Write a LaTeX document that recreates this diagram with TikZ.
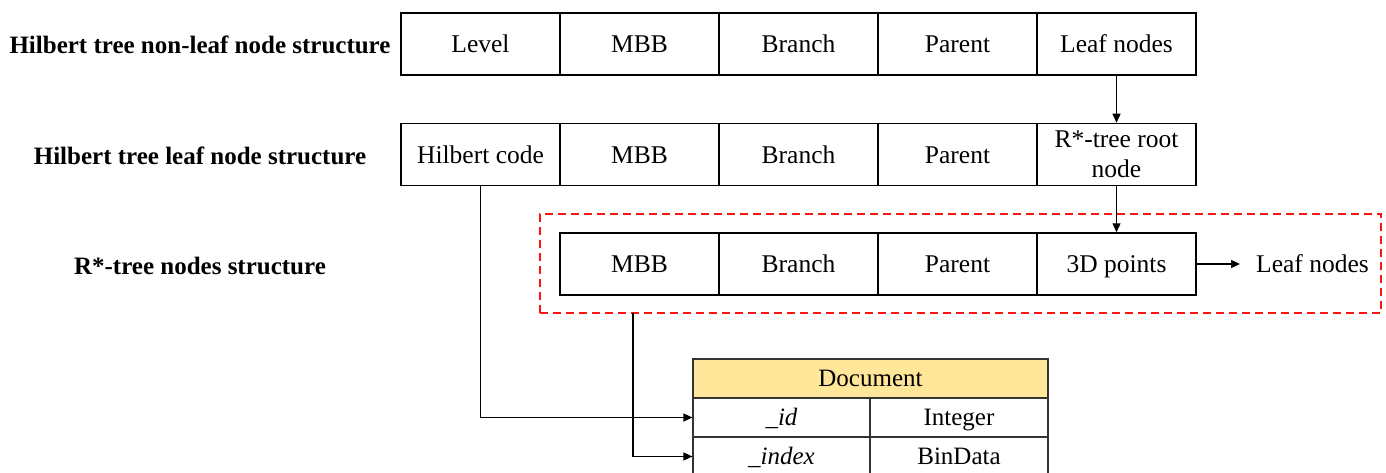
\documentclass[tikz,border=0pt]{standalone}
\usepackage{fontspec}
\setmainfont{Liberation Serif}
\usetikzlibrary{arrows.meta}
\begin{document}
\begin{tikzpicture}[x=1pt,y=-1pt,
  cell/.style={draw, line width=1.5pt, minimum width=159pt, minimum height=62pt,
    inner sep=0pt, font=\fontsize{25.5}{27}\selectfont},
  oneline/.style={text height=22.7pt, text depth=5.5pt},
  rowlabel/.style={font=\fontsize{25}{27}\selectfont\bfseries},
  tcell/.style={draw=black!80, line width=1.2pt, minimum height=39pt, inner sep=0pt,
    font=\fontsize{25}{27}\selectfont, text height=22.3pt, text depth=5.4pt},
  conn/.style={line width=1.3pt, -{Triangle[length=9pt,width=8pt]}},
  redbox/.style={draw={rgb,255:red,255;green,20;blue,20}, line width=1.8pt,
    dash pattern=on 8pt off 5pt},
]
\useasboundingbox (0,0) rectangle (1386,473);
\clip (0,0) rectangle (1386,473);

% row labels
\node[rowlabel] (l1) at (200,45) {Hilbert tree non-leaf node structure};
\node[rowlabel] (l2) at (200,156) {Hilbert tree leaf node structure};
\node[rowlabel] (l3) at (200,266) {R*-tree nodes structure};

% Hilbert tree non-leaf node
\node[cell, oneline] (a1) at (480.5,44) {Level};
\node[cell, oneline] (a2) at (639.5,44) {MBB};
\node[cell, oneline] (a3) at (798.5,44) {Branch};
\node[cell, oneline] (a4) at (957.5,44) {Parent};
\node[cell, oneline] (a5) at (1116.5,44) {Leaf nodes};

% Hilbert tree leaf node
\node[cell, oneline] (b1) at (480.5,154.5) {Hilbert code};
\node[cell, oneline] (b2) at (639.5,154.5) {MBB};
\node[cell, oneline] (b3) at (798.5,154.5) {Branch};
\node[cell, oneline] (b4) at (957.5,154.5) {Parent};
\node[cell, align=center, font=\fontsize{25.5}{30}\selectfont] (b5) at (1116.5,154.5) {R*-tree root\\node};

% R*-tree nodes
\node[redbox, minimum width=841pt, minimum height=99pt, inner sep=0pt] (grp) at (960.5,263.5) {};
\node[cell, oneline] (c2) at (639.5,264) {MBB};
\node[cell, oneline] (c3) at (798.5,264) {Branch};
\node[cell, oneline] (c4) at (957.5,264) {Parent};
\node[cell, oneline] (c5) at (1116.5,264) {3D points};
\node[anchor=west, inner xsep=16pt, inner ysep=0pt, oneline, font=\fontsize{25.5}{27}\selectfont] (leaf) at (1240,264) {Leaf nodes};

% Document table
\node[tcell, fill={rgb,255:red,255;green,230;blue,153}, minimum width=355pt] (doc) at (870.5,378.5) {Document};
\node[tcell, minimum width=177pt] (idk) at (781.5,417.5) {\itshape \_id};
\node[tcell, minimum width=178pt] (idv) at (959,417.5) {Integer};
\node[tcell, minimum width=177pt] (ixk) at (781.5,456.5) {\itshape \_index};
\node[tcell, minimum width=178pt] (ixv) at (959,456.5) {BinData};

% connectors
\draw[conn] (a5.south) -- (b5.north);
\draw[conn] (b5.south) -- (c5.north);
\draw[conn] (c5.east) -- (leaf.west);
\draw[conn] (b1.south) -- (b1.south |- idk.west) -- (idk.west);
\coordinate (mbbout) at (633,313);
\draw[conn] (mbbout) -- (mbbout |- ixk.west) -- (ixk.west);
\end{tikzpicture}
\end{document}
